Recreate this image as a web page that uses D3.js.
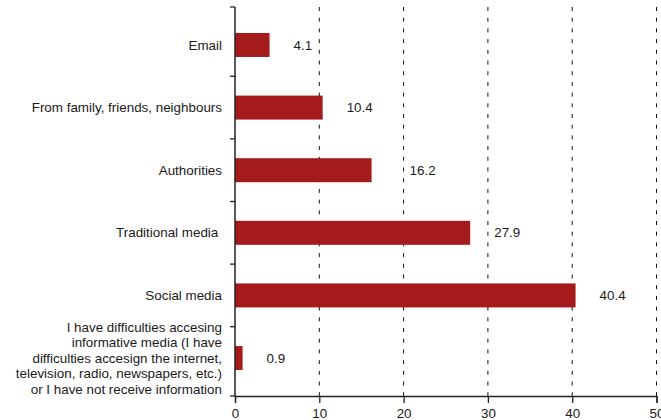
<!DOCTYPE html>
<html>
<head>
<meta charset="utf-8">
<script src="https://d3js.org/d3.v7.min.js"></script>
<style>
    body { margin: 0; background: #fff; }
    text { font-family: "Liberation Sans", Arial, Helvetica, sans-serif; fill: #1a1a1a; }
    .cat { white-space: pre; }
</style>
</head>
<body>
<div id="chart"></div>
<script>
    // categories, top to bottom (each entry = lines of the label)
    const categories = [
        ["Email"],
        ["From family, friends, neighbours"],
        ["Authorities"],
        ["Traditional media "],
        ["Social media"],
        ["I have difficulties accesing",
         "informative media (I have",
         "difficulties accesign the internet,",
         "television, radio, newspapers, etc.)",
         "or I have not receive information"]
    ];
    const values = [4.1, 10.4, 16.2, 27.9, 40.4, 0.9];
    const xTicks = [0, 10, 20, 30, 40, 50];

    const W = 661, H = 420;
    const margin = {top: 7, right: 4.5, bottom: 24, left: 235};
    const iw = W - margin.left - margin.right;
    const ih = H - margin.top - margin.bottom;
    const fs = 13.4;

    const svg = d3.select('#chart').append('svg')
        .attr('width', W).attr('height', H);
    const g = svg.append('g').attr('transform', `translate(${margin.left},${margin.top})`);

    const ids = categories.map((d, i) => i);
    const x = d3.scaleLinear().domain([0, 50]).range([0, iw]);
    const y = d3.scaleBand().domain(ids).range([0, ih])
        .paddingInner(0.617).paddingOuter(0.415);

    // dashed gridlines
    g.selectAll('.grid').data(xTicks.filter(d => d > 0)).enter().append('line')
        .attr('class', 'grid')
        .attr('x1', d => x(d)).attr('x2', d => x(d))
        .attr('y1', 0).attr('y2', ih)
        .attr('stroke', '#111').attr('stroke-width', 1)
        .attr('stroke-dasharray', '4,6.7');

    // bars
    g.selectAll('.bar').data(values).enter().append('rect')
        .attr('class', 'bar')
        .attr('x', 0)
        .attr('y', (d, i) => y(i))
        .attr('width', d => x(d))
        .attr('height', y.bandwidth())
        .attr('fill', '#a51b1b');

    // value labels, pushed past a gridline if they would sit on it
    g.selectAll('.val').data(values).enter().append('text')
        .attr('class', 'val')
        .attr('y', (d, i) => y(i) + y.bandwidth() / 2)
        .attr('dy', '0.35em')
        .attr('font-size', fs)
        .text(d => d.toFixed(1))
        .attr('x', function(d) {
            let x0 = x(d) + 24;
            const w = this.getComputedTextLength();
            xTicks.forEach(t => {
                const gx = x(t);
                if (t > 0 && gx > x0 - 2 && gx < x0 + w + 2) x0 = gx + 6;
            });
            return x0;
        });

    // x axis
    const xAxis = g.append('g').attr('transform', `translate(0,${ih})`)
        .call(d3.axisBottom(x).tickValues(xTicks).tickSize(7).tickPadding(5));
    xAxis.select('.domain').attr('stroke', '#222').attr('stroke-width', 1.3);
    xAxis.selectAll('.tick line').attr('stroke', '#222').attr('stroke-width', 1.3);
    xAxis.selectAll('.tick text').attr('font-size', fs)
        .attr('font-family', '"Liberation Sans", Arial, sans-serif').attr('fill', '#1a1a1a');

    // y axis: line with ticks between the categories
    const step = y.step();
    const bounds = [0].concat(ids.slice(1).map(i => y(i) + y.bandwidth() / 2 - step / 2), [ih]);
    g.append('line')
        .attr('x1', 0).attr('x2', 0).attr('y1', 0).attr('y2', ih)
        .attr('stroke', '#222').attr('stroke-width', 1.5);
    g.selectAll('.ytick').data(bounds).enter().append('line')
        .attr('class', 'ytick')
        .attr('x1', -5).attr('x2', 0)
        .attr('y1', d => d).attr('y2', d => d)
        .attr('stroke', '#222').attr('stroke-width', 1.3);

    // category labels
    const lineH = 15.4;
    g.selectAll('.cat').data(categories).enter().append('text')
        .attr('class', 'cat')
        .attr('text-anchor', 'end')
        .attr('font-size', fs)
        .attr('x', -13)
        .attr('y', (d, i) => y(i) + y.bandwidth() / 2)
        .each(function(lines) {
            const t = d3.select(this);
            lines.forEach((l, k) => {
                t.append('tspan')
                    .attr('x', -13)
                    .attr('dy', k === 0 ? (0.35 * fs - (lines.length - 1) * lineH / 2) : lineH)
                    .text(l);
            });
        });
</script>
</body>
</html>
